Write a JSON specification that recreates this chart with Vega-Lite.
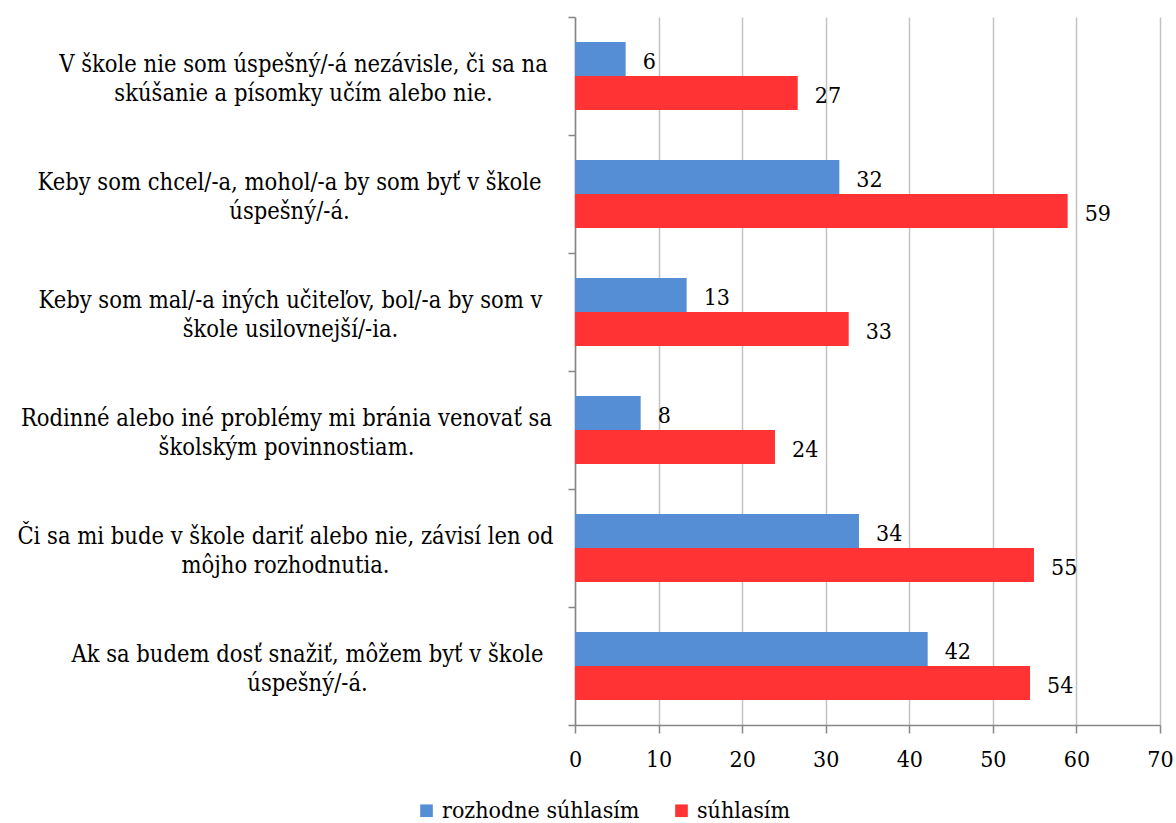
{
  "$schema": "https://vega.github.io/schema/vega-lite/v6.json",
  "width": 585,
  "height": 708,
  "autosize": {"type": "none"},
  "padding": {"left": 575, "top": 17, "right": 16, "bottom": 98},
  "background": "white",
  "config": {
    "font": "DejaVu Serif Condensed, DejaVu Serif",
    "view": {"stroke": null},
    "axis": {
      "labelFont": "DejaVu Serif Condensed, DejaVu Serif",
      "labelFontSize": 23,
      "labelColor": "#000000",
      "domainColor": "#868686",
      "domainWidth": 1.5,
      "tickColor": "#868686",
      "tickWidth": 1.5,
      "title": null
    }
  },
  "data": {
    "values": [
      {"q": "V škole nie som úspešný/-á nezávisle, či sa na|skúšanie a písomky učím alebo nie.", "s": "rozhodne súhlasím", "v": 6.06},
      {"q": "V škole nie som úspešný/-á nezávisle, či sa na|skúšanie a písomky učím alebo nie.", "s": "súhlasím", "v": 26.65},
      {"q": "Keby som chcel/-a, mohol/-a by som byť v škole|úspešný/-á.", "s": "rozhodne súhlasím", "v": 31.63},
      {"q": "Keby som chcel/-a, mohol/-a by som byť v škole|úspešný/-á.", "s": "súhlasím", "v": 58.95},
      {"q": "Keby som mal/-a iných učiteľov, bol/-a by som v|škole usilovnejší/-ia.", "s": "rozhodne súhlasím", "v": 13.36},
      {"q": "Keby som mal/-a iných učiteľov, bol/-a by som v|škole usilovnejší/-ia.", "s": "súhlasím", "v": 32.75},
      {"q": "Rodinné alebo iné problémy mi bránia venovať sa|školským povinnostiam.", "s": "rozhodne súhlasím", "v": 7.86},
      {"q": "Rodinné alebo iné problémy mi bránia venovať sa|školským povinnostiam.", "s": "súhlasím", "v": 23.93},
      {"q": "Či sa mi bude v škole dariť alebo nie, závisí len od|môjho rozhodnutia.", "s": "rozhodne súhlasím", "v": 33.98},
      {"q": "Či sa mi bude v škole dariť alebo nie, závisí len od|môjho rozhodnutia.", "s": "súhlasím", "v": 54.92},
      {"q": "Ak sa budem dosť snažiť, môžem byť v škole|úspešný/-á.", "s": "rozhodne súhlasím", "v": 42.2},
      {"q": "Ak sa budem dosť snažiť, môžem byť v škole|úspešný/-á.", "s": "súhlasím", "v": 54.45}
    ]
  },
  "encoding": {
    "y": {
      "field": "q",
      "type": "nominal",
      "sort": [
        "V škole nie som úspešný/-á nezávisle, či sa na|skúšanie a písomky učím alebo nie.",
        "Keby som chcel/-a, mohol/-a by som byť v škole|úspešný/-á.",
        "Keby som mal/-a iných učiteľov, bol/-a by som v|škole usilovnejší/-ia.",
        "Rodinné alebo iné problémy mi bránia venovať sa|školským povinnostiam.",
        "Či sa mi bude v škole dariť alebo nie, závisí len od|môjho rozhodnutia.",
        "Ak sa budem dosť snažiť, môžem byť v škole|úspešný/-á."
      ],
      "scale": {"paddingInner": 0, "paddingOuter": 0},
      "axis": {
        "tickBand": "extent",
        "tickSize": 7,
        "labelPadding": {
          "condition": [
            {"test": "datum.value === 'Keby som chcel/-a, mohol/-a by som byť v škole|úspešný/-á.'", "value": 279},
            {"test": "datum.value === 'Keby som mal/-a iných učiteľov, bol/-a by som v|škole usilovnejší/-ia.'", "value": 278},
            {"test": "datum.value === 'Rodinné alebo iné problémy mi bránia venovať sa|školským povinnostiam.'", "value": 282},
            {"test": "datum.value === 'Či sa mi bude v škole dariť alebo nie, závisí len od|môjho rozhodnutia.'", "value": 283},
            {"test": "datum.value === 'Ak sa budem dosť snažiť, môžem byť v škole|úspešný/-á.'", "value": 261}
          ],
          "value": 265
        },
        "labelAlign": "center",
        "labelBaseline": "middle",
        "labelFontSize": 23.5,
        "labelLimit": 0,
        "labelLineHeight": 29,
        "labelOffset": -12,
        "labelExpr": "split(datum.label, '|')"
      }
    },
    "yOffset": {
      "field": "s",
      "type": "nominal",
      "sort": ["rozhodne súhlasím", "súhlasím"],
      "scale": {"paddingInner": 0, "paddingOuter": 0.735}
    },
    "x": {
      "field": "v",
      "type": "quantitative",
      "scale": {"domain": [0, 70], "nice": false},
      "axis": {
        "values": [0, 10, 20, 30, 40, 50, 60, 70],
        "grid": true,
        "gridColor": "#c3c3c3",
        "gridWidth": 1.5,
        "tickSize": 8,
        "labelPadding": 15,
        "labelFlush": false
      }
    }
  },
  "layer": [
    {
      "mark": {"type": "bar"},
      "encoding": {
        "color": {
          "field": "s",
          "type": "nominal",
          "scale": {"domain": ["rozhodne súhlasím", "súhlasím"], "range": ["#558ed5", "#ff3333"]},
          "legend": {
            "orient": "none",
            "direction": "horizontal",
            "legendX": -160,
            "legendY": 782,
            "title": null,
            "padding": 0,
            "symbolType": "square",
            "symbolSize": 160,
            "symbolStrokeWidth": 0,
            "labelFont": "DejaVu Serif Condensed, DejaVu Serif",
            "labelFontSize": 23,
            "labelColor": "#000000",
            "labelOffset": 4,
            "labelLimit": 0,
            "columnPadding": 30
          }
        }
      }
    },
    {
      "mark": {"type": "text", "align": "left", "baseline": "middle", "dx": 17, "dy": 3, "fontSize": 23, "font": "DejaVu Serif Condensed, DejaVu Serif", "color": "#000000"},
      "encoding": {
        "text": {"field": "v", "type": "quantitative", "format": ".0f"}
      }
    }
  ]
}
